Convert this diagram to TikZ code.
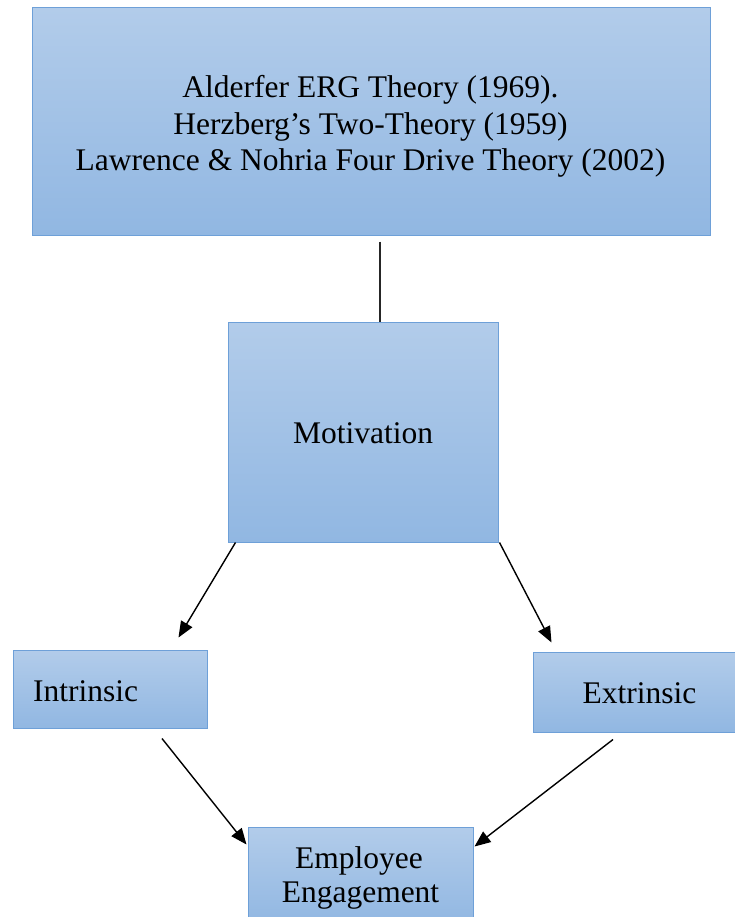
\documentclass[tikz,border=0pt]{standalone}
\usepackage{fontspec}
\setmainfont{Liberation Serif}
\usetikzlibrary{arrows.meta}
\definecolor{boxtop}{RGB}{178,204,234}
\definecolor{boxbot}{RGB}{145,183,226}
\definecolor{boxedge}{RGB}{110,160,216}
\tikzset{
  box/.style={rectangle, draw=boxedge, line width=1pt, top color=boxtop, bottom color=boxbot, inner sep=0pt},
  lbl/.style={inner sep=0pt, font=\fontsize{31.5}{36.5}\selectfont, text=black},
  conn/.style={line width=1.3pt, draw=black!85},
  arr/.style={line width=1.4pt, draw=black, -{Triangle[length=16pt,width=13pt]}}
}
\begin{document}
\begin{tikzpicture}[x=1pt,y=-1pt]
\useasboundingbox (0,0) rectangle (734,917);
% boxes
\node[box, minimum width=678pt, minimum height=227pt] (top) at (371,121.5) {};
\node[box, minimum width=270pt, minimum height=220pt] (mot) at (363,432) {};
\node[box, minimum width=194pt, minimum height=78pt] (intr) at (110,689) {};
\node[box, minimum width=207pt, minimum height=80pt] (extr) at (636.5,692) {};
\node[box, minimum width=225pt, minimum height=98pt] (emp) at (360.5,876) {};
% texts
\node[lbl, anchor=base] (t1) at (370.5,98) {Alderfer ERG Theory (1969).};
\node[lbl, anchor=base] (t2) at (370.5,134.5) {Herzberg’s Two-Theory (1959)};
\node[lbl, anchor=base] (t3) at (370.5,171) {Lawrence \& Nohria Four Drive Theory (2002)};
\node[lbl, anchor=base] (tm) at (363,443) {Motivation};
\node[lbl, anchor=base west] (ti) at (33,701) {Intrinsic};
\node[lbl, anchor=base] (te) at (639.5,703) {Extrinsic};
\node[lbl, anchor=base] (te1) at (359,868) {Employee};
\node[lbl, anchor=base] (te2) at (360.5,902) {Engagement};
% connectors
\draw[conn] ([xshift=9pt,yshift=-6pt]top.south) -- ([xshift=17pt]mot.north);
\draw[arr] ([xshift=8pt]mot.south west) -- ([xshift=-29pt,yshift=12pt]intr.north east);
\draw[arr] ([xshift=1pt]mot.south east) -- ([xshift=19pt,yshift=9pt]extr.north west);
\draw[arr] ([xshift=52pt,yshift=-10pt]intr.south) -- ([xshift=-1pt,yshift=-18pt]emp.north west);
\draw[arr] ([xshift=-23.5pt,yshift=-7pt]extr.south) -- ([xshift=1pt,yshift=-20pt]emp.north east);
\end{tikzpicture}
\end{document}
